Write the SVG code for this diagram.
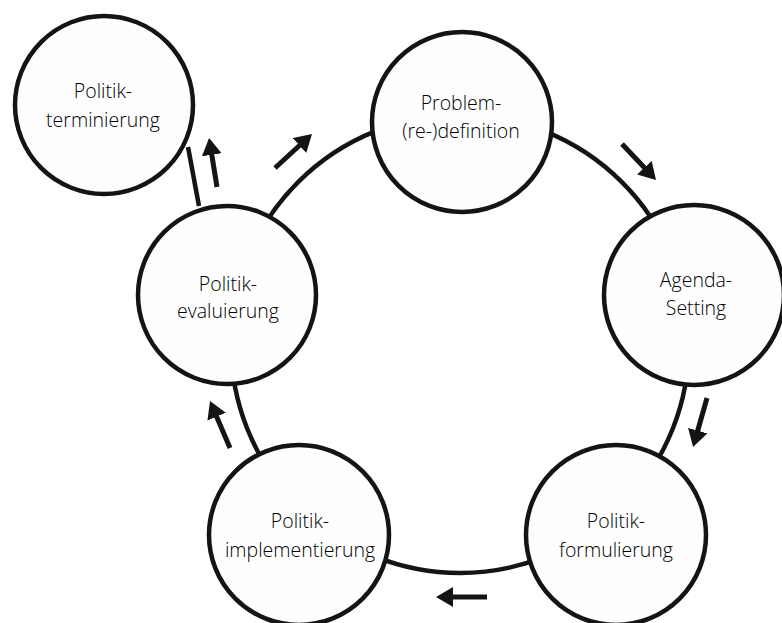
<svg xmlns="http://www.w3.org/2000/svg" width="782" height="623" viewBox="0 0 782 623">
<style>
.node{fill:#fefefe;stroke:#141414;stroke-width:4.5}
.conn{fill:none;stroke:#141414;stroke-width:4.5}
.arr{fill:none;stroke:#141414;stroke-width:5}
.lbl{font-family:"Open Sans","Noto Sans",sans-serif;font-weight:300;font-size:19.5px;fill:#000;text-anchor:middle}
</style>
<defs>
<marker id="ah" viewBox="0 0 17 20" markerWidth="17" markerHeight="20" refX="3" refY="10" orient="auto" markerUnits="userSpaceOnUse">
<path d="M0,0 L17,10 L0,20 Z" fill="#141414"/>
</marker>
</defs>
<rect width="782" height="623" fill="#ffffff"/>
<g id="connectors">
<circle class="conn" cx="460" cy="344" r="229"/>
<line class="conn" x1="188" y1="147" x2="199" y2="206"/>
<line class="arr" x1="217" y1="187" x2="211.3" y2="151.8" marker-end="url(#ah)"/>
<line class="arr" x1="275" y1="168" x2="301.7" y2="143.5" marker-end="url(#ah)"/>
<line class="arr" x1="622" y1="144" x2="646.4" y2="169.8" marker-end="url(#ah)"/>
<line class="arr" x1="707" y1="398" x2="696.9" y2="433.5" marker-end="url(#ah)"/>
<line class="arr" x1="487" y1="597" x2="450" y2="597" marker-end="url(#ah)"/>
<line class="arr" x1="230" y1="448" x2="215.5" y2="413.9" marker-end="url(#ah)"/>
</g>
<g id="node-terminierung">
<circle class="node" cx="104" cy="105" r="89"/>
<text class="lbl" x="103" y="98">Politik-</text>
<text class="lbl" x="103" y="127">terminierung</text>
</g>
<g id="node-problem">
<circle class="node" cx="462" cy="122" r="90"/>
<text class="lbl" x="461" y="110">Problem-</text>
<text class="lbl" x="461" y="138">(re-)definition</text>
</g>
<g id="node-agenda">
<circle class="node" cx="694" cy="295" r="90"/>
<text class="lbl" x="696" y="287">Agenda-</text>
<text class="lbl" x="696" y="315">Setting</text>
</g>
<g id="node-formulierung">
<circle class="node" cx="616" cy="535" r="90"/>
<text class="lbl" x="616" y="528">Politik-</text>
<text class="lbl" x="616" y="557">formulierung</text>
</g>
<g id="node-implementierung">
<circle class="node" cx="299" cy="535" r="90"/>
<text class="lbl" x="300" y="528">Politik-</text>
<text class="lbl" x="300" y="557">implementierung</text>
</g>
<g id="node-evaluierung">
<circle class="node" cx="227" cy="295" r="89"/>
<text class="lbl" x="228" y="291">Politik-</text>
<text class="lbl" x="228" y="318">evaluierung</text>
</g>
</svg>
